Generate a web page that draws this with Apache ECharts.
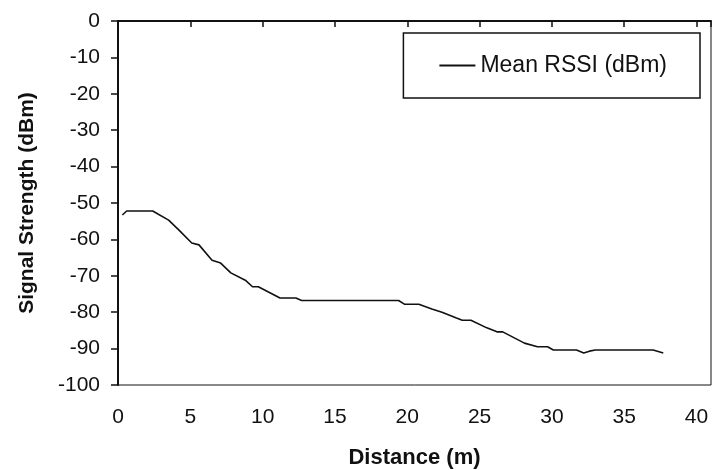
<!DOCTYPE html>
<html><head><meta charset="utf-8">
<script src="https://cdn.jsdelivr.net/npm/echarts@6/dist/echarts.min.js"></script>
<style>html,body{margin:0;padding:0;background:#fff}#c{width:712px;height:470px}</style>
</head><body><div id="c"></div>
<script>
const distance = [0.3, 0.6, 2.4, 3.5, 4.2, 5.1, 5.6, 6.5, 7.1, 7.8, 8.8, 9.3, 9.7, 11.2, 12.3, 12.7, 19.4, 19.8, 20.8, 21.7, 22.4, 23.4, 23.8, 24.4, 25.5, 26.2, 26.6, 28.1, 29.0, 29.7, 30.1, 31.7, 32.2, 32.6, 33.0, 37.0, 37.7];
const meanRSSI = [-53.3, -52.2, -52.2, -54.7, -57.4, -61.0, -61.5, -65.7, -66.5, -69.2, -71.2, -73.0, -73.0, -76.1, -76.1, -76.8, -76.8, -77.8, -77.8, -79.1, -80.0, -81.6, -82.2, -82.2, -84.3, -85.4, -85.4, -88.5, -89.5, -89.5, -90.4, -90.4, -91.2, -90.7, -90.4, -90.4, -91.2];
const xTicks = [0, 5, 10, 15, 20, 25, 30, 35, 40];
const yTicks = [0, -10, -20, -30, -40, -50, -60, -70, -80, -90, -100];
const seriesName = 'Mean RSSI (dBm)';

const chart = echarts.init(document.getElementById('c'));
const font = 'Liberation Sans, Arial, sans-serif';
chart.setOption({
  animation: false,
  grid: {left: 118, right: 1, top: 21, bottom: 85, outerBoundsMode: 'none', containLabel: false,
    show: true, borderColor: '#111', borderWidth: 1, backgroundColor: 'transparent'},
  legend: {
    show: true, right: 12, top: 33, orient: 'vertical',
    padding: [21, 33, 21, 36], borderColor: '#111', borderWidth: 1.5,
    itemWidth: 36, itemHeight: 2, itemGap: 0,
    icon: 'rect',
    textStyle: {fontFamily: font, fontSize: 23, color: '#111'},
    data: [{name: seriesName, icon: 'rect'}]
  },
  xAxis: {
    type: 'value', min: 0, max: 41, interval: 5,
    name: 'Distance (m)', nameLocation: 'middle', nameGap: 62,
    nameTextStyle: {fontFamily: font, fontSize: 22, fontWeight: 'bold', color: '#111'},
    axisLine: {lineStyle: {color: '#111', width: 2}},
    axisTick: {show: true, length: 6, lineStyle: {color: '#111', width: 1.5}},
    splitLine: {show: false},
    axisLabel: {fontFamily: font, fontSize: 21, color: '#111', margin: 22,
      formatter: v => xTicks.includes(v) ? String(v) : ''}
  },
  yAxis: {
    type: 'value', min: -100, max: 0, interval: 10,
    name: 'Signal Strength (dBm)', nameLocation: 'middle', nameGap: 80, nameRotate: 90,
    nameTextStyle: {fontFamily: font, fontSize: 21, fontWeight: 'bold', color: '#111'},
    axisLine: {show: true, lineStyle: {color: '#111', width: 2}},
    axisTick: {show: true, length: 7, lineStyle: {color: '#111', width: 1.5}},
    splitLine: {show: false},
    axisLabel: {fontFamily: font, fontSize: 21, color: '#111', margin: 18,
      formatter: v => yTicks.includes(v) ? String(v) : ''}
  },
  series: [{
    name: seriesName, type: 'line', showSymbol: false, symbol: 'none',
    data: distance.map((d, i) => [d, meanRSSI[i]]),
    lineStyle: {color: '#111', width: 1.6}, itemStyle: {color: '#111'}
  }]
});
</script></body></html>
